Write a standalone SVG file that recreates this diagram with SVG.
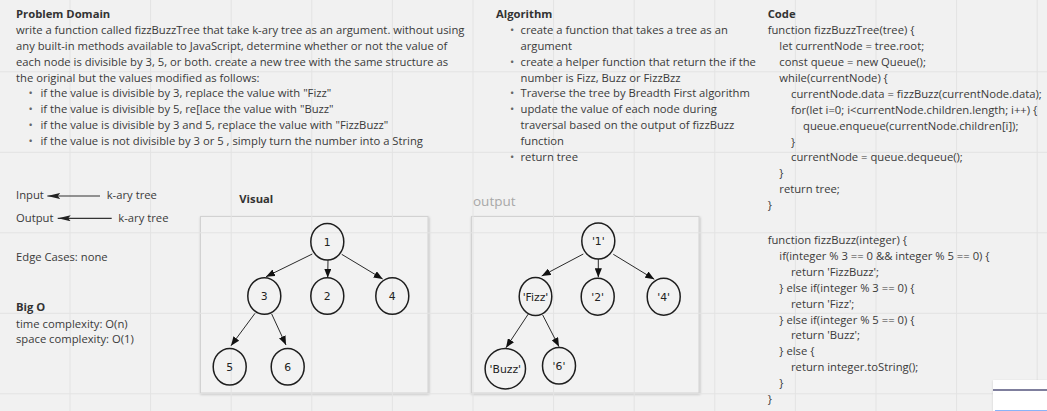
<svg xmlns="http://www.w3.org/2000/svg" width="1047" height="411" viewBox="0 0 1047 411">
<defs>
<style>
.t{font-family:"Open Sans","Liberation Sans",sans-serif;font-size:11.25px;fill:#3a3a3a}
.h{font-family:"Open Sans","Liberation Sans",sans-serif;font-size:11.25px;font-weight:bold;fill:#333}
.b{font-family:"Open Sans","Liberation Sans",sans-serif;font-size:11.25px;fill:#666}
.lbl{font-family:"DejaVu Sans","Liberation Sans",sans-serif;font-size:10.8px;fill:#222;text-anchor:middle}
.nd{fill:none;stroke:#1e1e1e;stroke-width:1.5}
.ed{fill:none;stroke:#2a2a2a;stroke-width:1}
.io{fill:none;stroke:#333;stroke-width:1.2}
.grid{fill:none;stroke:#e3e3e3;stroke-width:1}
.box{fill:#f2f2f2;stroke:#d2d2d2;stroke-width:1}
</style>
<marker id="ah" viewBox="0 0 10 8" refX="10" refY="4" markerWidth="9" markerHeight="7.2" markerUnits="userSpaceOnUse" orient="auto">
<path d="M0,0 L10,4 L0,8 Z" fill="#111"/>
</marker>
<marker id="ai" viewBox="0 0 13 6" refX="13" refY="3" markerWidth="13" markerHeight="6" markerUnits="userSpaceOnUse" orient="auto">
<path d="M0,0 L13,3 L0,6 L2.5,3 Z" fill="#222"/>
</marker>
<filter id="sh" x="-5%" y="-5%" width="110%" height="110%">
<feDropShadow dx="0.5" dy="1" stdDeviation="1.2" flood-color="#000" flood-opacity="0.25"/>
</filter>
</defs>
<rect x="0" y="0" width="1047" height="411" fill="#f1f1f1"/>
<rect class="box" x="200.5" y="216.5" width="227.5" height="176.5" filter="url(#sh)"/>
<rect class="box" x="471.5" y="216.5" width="227.5" height="176.5" filter="url(#sh)"/>
<path class="grid" d="M70,0V411M150.6,0V411M231.2,0V411M311.8,0V411M392.4,0V411M473,0V411M553.6,0V411M634.2,0V411M714.8,0V411M795.4,0V411M876,0V411M956.6,0V411M1037.2,0V411M0,71.8H1047M0,152.3H1047M0,232.8H1047M0,313.3H1047M0,393.8H1047"/>

<g id="problem-domain">
<text class="h" x="16" y="18.3">Problem Domain</text>
<text class="t" x="16" y="34.1">write a function called fizzBuzzTree that take k-ary tree as an argument. without using</text>
<text class="t" x="16" y="49.9">any built-in methods available to JavaScript, determine whether or not the value of</text>
<text class="t" x="16" y="65.7">each node is divisible by 3, 5, or both. create a new tree with the same structure as</text>
<text class="t" x="16" y="81.5">the original but the values modified as follows:</text>
<text class="b" x="28.6" y="97.3">•</text><text class="t" x="40.5" y="97.3">if the value is divisible by 3, replace the value with "Fizz"</text>
<text class="b" x="28.6" y="113.1">•</text><text class="t" x="40.5" y="113.1">if the value is divisible by 5, re[lace the value with "Buzz"</text>
<text class="b" x="28.6" y="128.9">•</text><text class="t" x="40.5" y="128.9">if the value is divisible by 3 and 5, replace the value with "FizzBuzz"</text>
<text class="b" x="28.6" y="144.7">•</text><text class="t" x="40.5" y="144.7">if the value is not divisible by 3 or 5 , simply turn the number into a String</text>
</g>

<g id="algorithm">
<text class="h" x="496" y="18.3">Algorithm</text>
<text class="b" x="510" y="34.1">•</text><text class="t" x="520.5" y="34.1">create a function that takes a tree as an</text>
<text class="t" x="520.5" y="49.9">argument</text>
<text class="b" x="510" y="65.7">•</text><text class="t" x="520.5" y="65.7">create a helper function that return the if the</text>
<text class="t" x="520.5" y="81.5">number is Fizz, Buzz or FizzBzz</text>
<text class="b" x="510" y="97.3">•</text><text class="t" x="520.5" y="97.3">Traverse the tree by Breadth First algorithm</text>
<text class="b" x="510" y="113.1">•</text><text class="t" x="520.5" y="113.1">update the value of each node during</text>
<text class="t" x="520.5" y="128.9">traversal based on the output of fizzBuzz</text>
<text class="t" x="520.5" y="144.7">function</text>
<text class="b" x="510" y="160.5">•</text><text class="t" x="520.5" y="160.5">return tree</text>
</g>

<g id="code">
<text class="h" x="767.7" y="18.3">Code</text>
<text class="t" x="767.7" y="34.2">function fizzBuzzTree(tree) {</text>
<text class="t" x="779.3" y="50.1">let currentNode = tree.root;</text>
<text class="t" x="779.3" y="66">const queue = new Queue();</text>
<text class="t" x="779.3" y="81.9">while(currentNode) {</text>
<text class="t" x="791" y="97.8">currentNode.data = fizzBuzz(currentNode.data);</text>
<text class="t" x="791" y="113.7">for(let i=0; i&lt;currentNode.children.length; i++) {</text>
<text class="t" x="803" y="129.6">queue.enqueue(currentNode.children[i]);</text>
<text class="t" x="791" y="145.5">}</text>
<text class="t" x="791" y="161.4">currentNode = queue.dequeue();</text>
<text class="t" x="779.3" y="177.3">}</text>
<text class="t" x="779.3" y="193.2">return tree;</text>
<text class="t" x="767.7" y="209.1">}</text>
<text class="t" x="767.7" y="244">function fizzBuzz(integer) {</text>
<text class="t" x="779.3" y="259.9">if(integer % 3 == 0 &amp;&amp; integer % 5 == 0) {</text>
<text class="t" x="791" y="275.8">return 'FizzBuzz';</text>
<text class="t" x="779.3" y="291.7">} else if(integer % 3 == 0) {</text>
<text class="t" x="791" y="307.6">return 'Fizz';</text>
<text class="t" x="779.3" y="323.5">} else if(integer % 5 == 0) {</text>
<text class="t" x="791" y="339.4">return 'Buzz';</text>
<text class="t" x="779.3" y="355.3">} else {</text>
<text class="t" x="791" y="371.2">return integer.toString();</text>
<text class="t" x="779.3" y="387.1">}</text>
<text class="t" x="767.7" y="403">}</text>
</g>

<g id="io">
<text class="t" x="16" y="199.3">Input</text>
<text class="t" x="106.7" y="199.3">k-ary tree</text>
<text class="t" x="16" y="221.9">Output</text>
<text class="t" x="118.3" y="221.9">k-ary tree</text>
</g>

<g id="edge-cases"><text class="t" x="16" y="260.7">Edge Cases: none</text></g>
<g id="big-o">
<text class="h" x="16" y="310.7">Big O</text>
<text class="t" x="16" y="327.5">time complexity: O(n)</text>
<text class="t" x="16" y="343.3">space complexity: O(1)</text>
</g>

<text class="h" x="239.3" y="202.7">Visual</text>
<text x="473" y="205.7" style="font-family:'Open Sans','Liberation Sans',sans-serif;font-size:13.5px;fill:#a8a8a8">output</text>

<g id="connectors">
<line class="io" x1="100" y1="196" x2="47.3" y2="196" marker-end="url(#ai)"/>
<line class="io" x1="111.7" y1="218.3" x2="57.7" y2="218.3" marker-end="url(#ai)"/>
<line class="ed" x1="312.3" y1="254" x2="266" y2="276.7" marker-end="url(#ah)"/>
<line class="ed" x1="328" y1="260" x2="327.7" y2="277.7" marker-end="url(#ah)"/>
<line class="ed" x1="341.7" y1="254.3" x2="382.7" y2="279" marker-end="url(#ah)"/>
<line class="ed" x1="255" y1="313.3" x2="231" y2="345.7" marker-end="url(#ah)"/>
<line class="ed" x1="271.7" y1="314" x2="286" y2="345" marker-end="url(#ah)"/>
<line class="ed" x1="583.3" y1="254" x2="541.7" y2="276" marker-end="url(#ah)"/>
<line class="ed" x1="598.3" y1="259" x2="598.3" y2="277.3" marker-end="url(#ah)"/>
<line class="ed" x1="613.3" y1="254.3" x2="654.3" y2="279.3" marker-end="url(#ah)"/>
<line class="ed" x1="528.3" y1="314" x2="506" y2="347.7" marker-end="url(#ah)"/>
<line class="ed" x1="542.7" y1="315" x2="559" y2="346.7" marker-end="url(#ah)"/>
</g>

<g id="v1"><ellipse class="nd" cx="327.3" cy="241.7" rx="16.5" ry="18.3"/><text class="lbl" x="327.3" y="245.7">1</text></g>
<g id="v3"><ellipse class="nd" cx="264.3" cy="296" rx="16.5" ry="18.3"/><text class="lbl" x="264.3" y="300">3</text></g>
<g id="v2"><ellipse class="nd" cx="327.3" cy="296" rx="16.5" ry="18.3"/><text class="lbl" x="327.3" y="300">2</text></g>
<g id="v4"><ellipse class="nd" cx="392.3" cy="296" rx="16.5" ry="18.3"/><text class="lbl" x="392.3" y="300">4</text></g>
<g id="v5"><ellipse class="nd" cx="229.7" cy="366.7" rx="16.5" ry="18.3"/><text class="lbl" x="229.7" y="370.7">5</text></g>
<g id="v6"><ellipse class="nd" cx="287.7" cy="366.7" rx="16.5" ry="18.3"/><text class="lbl" x="287.7" y="370.7">6</text></g>

<g id="o1"><ellipse class="nd" cx="598.3" cy="241" rx="16.5" ry="18"/><text class="lbl" x="598.3" y="245">'1'</text></g>
<g id="oFizz"><ellipse class="nd" cx="535.5" cy="296.5" rx="16.3" ry="19"/><text class="lbl" x="535.5" y="300.5">'Fizz'</text></g>
<g id="o2"><ellipse class="nd" cx="597.7" cy="296.7" rx="16.5" ry="18.5"/><text class="lbl" x="597.7" y="300.7">'2'</text></g>
<g id="o4"><ellipse class="nd" cx="663.7" cy="296.7" rx="16.5" ry="18.5"/><text class="lbl" x="663.7" y="300.7">'4'</text></g>
<g id="oBuzz"><ellipse class="nd" cx="505.3" cy="368.7" rx="20.2" ry="20.2"/><text class="lbl" x="505.3" y="372.7">'Buzz'</text></g>
<g id="o6"><ellipse class="nd" cx="559" cy="365.7" rx="16.5" ry="18.3"/><text class="lbl" x="559" y="369.7">'6'</text></g>

<g id="corner-widget">
<rect x="993" y="380" width="54" height="31" fill="#ffffff" filter="url(#sh)"/>
<line x1="993" y1="390" x2="1047" y2="390" stroke="#55557c" stroke-width="1.6"/>
<line x1="995" y1="410.5" x2="1047" y2="410.5" stroke="#8ab4f8" stroke-width="1"/>
</g>
</svg>
